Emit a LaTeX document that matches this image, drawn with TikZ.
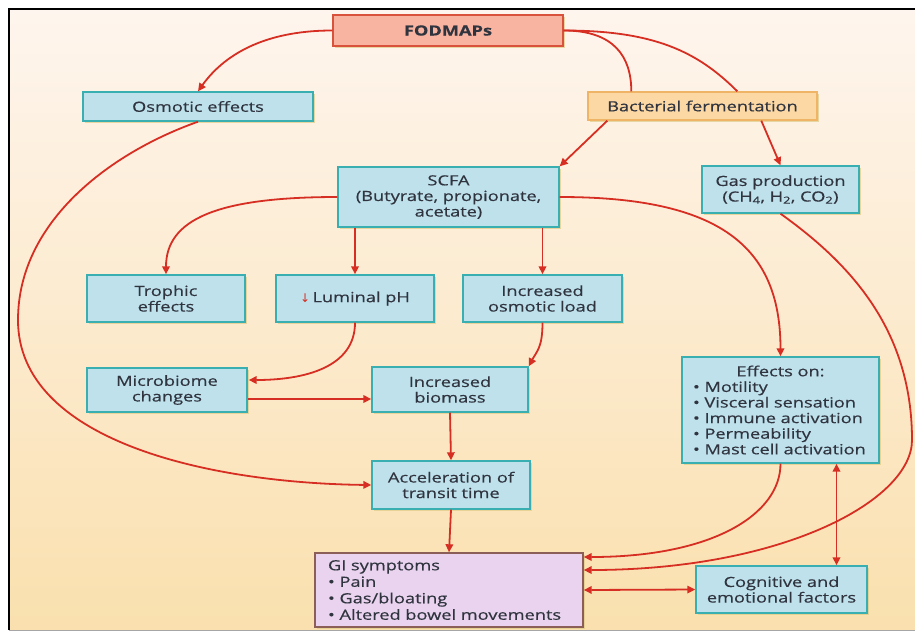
\documentclass[tikz,border=0pt]{standalone}
\usepackage{fontspec}
\setmainfont{Open Sans}[FakeStretch=1.3, FakeBold=0.45]
\newfontfamily\symfont{DejaVu Sans}
\usetikzlibrary{arrows.meta,calc,shadows}
\definecolor{arr}{HTML}{D62E22}
\definecolor{boxfill}{HTML}{BEE1EB}
\definecolor{boxline}{HTML}{3AAFB2}
\definecolor{fodfill}{HTML}{F8B4A0}
\definecolor{fodline}{HTML}{D9523C}
\definecolor{bffill}{HTML}{FBD8A4}
\definecolor{bfline}{HTML}{EFB466}
\definecolor{gifill}{HTML}{E9D3EE}
\definecolor{giline}{HTML}{8C5E58}
\definecolor{txt}{HTML}{30343F}
\definecolor{bgtop}{HTML}{FEF5EE}
\definecolor{bgbot}{HTML}{FAE0AE}
\definecolor{shadowc}{HTML}{E0CB86}
\begin{document}
\begin{tikzpicture}[x=1pt,y=-1pt,
  box/.style={draw=boxline, fill=boxfill, line width=1.4pt, inner sep=0pt, align=center, text=txt,
    font=\fontsize{14}{15.6}\selectfont,
    drop shadow={shadow xshift=1.8pt, shadow yshift=-1.8pt, fill=shadowc, opacity=0.7}},
  con/.style={draw=arr, line width=1.8pt},
  arrow/.style={con, -{Triangle[width=7.5pt,length=8pt]}},
  darrow/.style={con, {Triangle[width=7.5pt,length=8pt]}-{Triangle[width=7.5pt,length=8pt]}}
]
\useasboundingbox (0,0) rectangle (915,633);
\fill[white] (0,0) rectangle (915,633);
\shade[top color=bgtop, bottom color=bgbot] (9,9) rectangle (915,630);
\draw[black, line width=2pt] (9,630) -- (9,9) -- (915,9);
\draw[gray!70, line width=1pt] (9,630) -- (915,630);

% nodes
\node[box, minimum width=230pt, minimum height=31pt, fill=fodfill, draw=fodline,
      font=\fontsize{14}{15.6}\selectfont\bfseries] (fod) at (448,30.5) {FODMAPs};
\node[box, minimum width=230pt, minimum height=29pt] (osm) at (198,106.5) {Osmotic effects};
\node[box, minimum width=229pt, minimum height=28pt, fill=bffill, draw=bfline] (bf) at (702.5,106) {Bacterial fermentation};
\node[box, minimum width=221pt, minimum height=60pt] (scfa) at (448.5,197) {SCFA\\(Butyrate, propionate,\\acetate)};
\node[box, minimum width=157pt, minimum height=47pt] (gas) at (780.5,189.5) {Gas production\\(CH\textsubscript{4}, H\textsubscript{2}, CO\textsubscript{2})};
\node[box, minimum width=158pt, minimum height=47pt] (tro) at (166,298.5) {Trophic\\effects};
\node[box, minimum width=158pt, minimum height=47pt] (lum) at (355,298.5) {{\symfont\color{arr}\fontsize{12}{14}\selectfont ↓}\,Luminal pH};
\node[box, minimum width=159pt, minimum height=47pt] (iol) at (542.5,298.5) {Increased\\osmotic load};
\node[box, minimum width=160pt, minimum height=44pt] (mic) at (167,390) {Microbiome\\changes};
\node[box, minimum width=156pt, minimum height=45pt] (bio) at (450,389.5) {Increased\\biomass};
\node[box, minimum width=197pt, minimum height=106pt, text width=175pt, align=left] (eff) at (780.5,410)
  {\makebox[\linewidth][c]{Effects on:}\\\textbullet\ Motility\\\textbullet\ Visceral sensation\\\textbullet\ Immune activation\\\textbullet\ Permeability\\\textbullet\ Mast cell activation};
\node[box, minimum width=158pt, minimum height=48pt] (acc) at (451,485) {Acceleration of\\transit time};
\node[box, minimum width=268pt, minimum height=74pt, fill=gifill, draw=giline, text width=242pt, align=left,
      font=\fontsize{14}{16.5}\selectfont] (gi) at (449,590)
  {GI symptoms\\\textbullet\ Pain\\\textbullet\ Gas/bloating\\\textbullet\ Altered bowel movements};
\node[box, minimum width=171pt, minimum height=47pt] (cog) at (781.5,589.5) {Cognitive and\\emotional factors};

% helper coordinates
\coordinate (bfA) at ($(bf.north west)+(44,0)$);
\coordinate (bfB) at ($(bf.north west)+(150,0)$);
\coordinate (bfC) at ($(bf.south west)+(174,0)$);
\coordinate (bfD) at ($(bf.south west)+(20,0)$);
\coordinate (oL) at (18,320);
\coordinate (gR) at (912,440);
\coordinate (ec) at ($(eff.south)+(56,0)$);

% connectors
\draw[arrow] (fod.west) .. controls +(-70,0) and +(25,-35) .. (osm.north);
\draw[con] (fod.east) .. controls +(50,0) and +(0,-35) .. (bfA);
\draw[con] (fod.east) .. controls +(90,0) and +(-40,-40) .. (bfB);
\draw[arrow] (bfC) -- (gas.north);
\draw[arrow] (bfD) -- (scfa.north east);
\draw[arrow] (scfa.west) .. controls +(-120,0) and +(0,-55) .. (tro.north);
\draw[arrow] (lum.north |- scfa.south) -- (lum.north);
\draw[arrow] (iol.north |- scfa.south) -- (iol.north);
\draw[arrow] (scfa.east) .. controls +(160,0) and +(0,-110) .. (eff.north);
\draw[arrow] (lum.south) .. controls +(0,45) and +(55,0) .. ($(mic.east)+(1,-10)$);
\draw[arrow] (iol.south) .. controls +(0,25) and +(8,-15) .. (bio.north east);
\draw[arrow] ($(mic.east)+(0,9)$) -- ($(bio.west)+(0,9.5)$);
\draw[arrow] (bio.south) -- (acc.north);
\draw[arrow] (osm.south) .. controls +(-85,30) and +(0,-100) .. (oL) .. controls +(0,120) and +(-165,-2) .. (acc.west);
\draw[arrow] (acc.south) -- (gi.north);
\draw[arrow] (eff.south) .. controls +(0,50) and +(130,0) .. ($(gi.east)+(0,-33)$);
\draw[arrow] (gas.south) .. controls +(70,50) and +(0,-110) .. (gR) .. controls +(0,60) and +(200,0) .. ($(gi.east)+(0,-20)$);
\draw[darrow] (ec) -- (ec |- cog.north);
\draw[darrow] (gi.east) -- (cog.west);
\end{tikzpicture}
\end{document}
